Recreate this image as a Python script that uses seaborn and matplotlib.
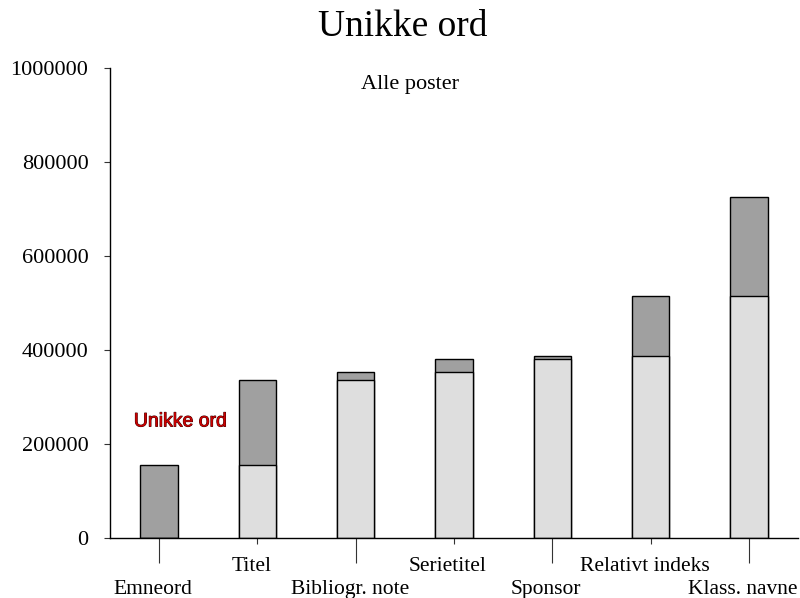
import matplotlib
matplotlib.use("Agg")
import matplotlib.pyplot as plt
import matplotlib.patheffects as pe
import matplotlib.transforms as mtransforms
import seaborn as sns
import pandas as pd

# data
categories = ["Emneord", "Titel", "Bibliogr. note", "Serietitel",
              "Sponsor", "Relativt indeks", "Klass. navne"]
base = [0, 155000, 336000, 353000, 380000, 387000, 515000]       # light part (previous total)
total = [155000, 336000, 353000, 380000, 387000, 515000, 725000]  # dark top = cumulative total
y_ticks = [0, 200000, 400000, 600000, 800000, 1000000]

df = pd.DataFrame({"kategori": categories, "base": base, "total": total})

sns.set_style("ticks")
plt.rcParams["font.family"] = ["Liberation Serif", "DejaVu Serif"]
plt.rcParams["text.color"] = "black"
plt.rcParams["xtick.labelcolor"] = "black"
plt.rcParams["ytick.labelcolor"] = "black"

fig = plt.figure(figsize=(8, 5.98), dpi=100)
ax = fig.add_axes([0.1375, 0.1003, 0.86, 0.786])

bw = 0.38
sns.barplot(data=df, x="kategori", y="total", order=categories, color="#a0a0a0",
            saturation=1, edgecolor="black", linewidth=1, width=bw, ax=ax)
sns.barplot(data=df, x="kategori", y="base", order=categories, color="#dedede",
            saturation=1, edgecolor="black", linewidth=1, width=bw, ax=ax)

ax.set_xlim(-0.5, len(categories) - 0.5)
ax.set_ylim(0, 1000000)
ax.set_yticks(y_ticks, labels=[str(v) for v in y_ticks])
ax.set_xlabel("")
ax.set_ylabel("")

# staggered category labels: odd ones high with short ticks, even ones low with long ticks
idx = list(range(len(categories)))
ax.set_xticks([i for i in idx if i % 2 == 1],
              labels=[categories[i] for i in idx if i % 2 == 1])
ax.set_xticks([i for i in idx if i % 2 == 0],
              labels=[categories[i] for i in idx if i % 2 == 0], minor=True)
ax.tick_params(axis="x", which="major", length=4, width=0.8, pad=10,
               labelsize=15.5, color="#333333")
ax.tick_params(axis="x", which="minor", length=18, width=0.8, pad=12,
               labelsize=15.5, color="#333333")
ax.tick_params(axis="y", length=4.5, width=0.8, pad=11, labelsize=16, color="#333333")

shift = mtransforms.ScaledTranslation(-6 / 100, 0, fig.dpi_scale_trans)
for lab in ax.get_xticklabels(which="both"):
    lab.set_transform(lab.get_transform() + shift)

sns.despine(ax=ax)
for s in ["left", "bottom"]:
    ax.spines[s].set_linewidth(1)
    ax.spines[s].set_color("black")

fig.text(403 / 800, 1 - 27 / 598, "Unikke ord", ha="center", va="center", fontsize=27)
fig.text(410 / 800, 1 - 85 / 598, "Alle poster", ha="center", va="center", fontsize=16)

ax.text(0.22, 247000, "Unikke ord", ha="center", va="center", fontsize=14,
        family=["Liberation Sans", "DejaVu Sans"], color="#cc0000",
        path_effects=[pe.withStroke(linewidth=0.7, foreground="#3a0000")])

fig.savefig("out.png", dpi=100)
